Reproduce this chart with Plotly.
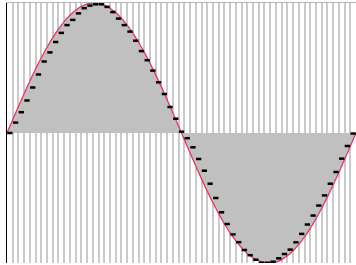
import plotly.graph_objects as go

# Smooth reference curve (one full period across 61 cells)
curve_x = list(range(0, 62))
curve_y = [0.0, 0.1028, 0.2045, 0.3041, 0.4005, 0.4925, 0.5794, 0.6600, 0.7338, 0.7998,
           0.8573, 0.9058, 0.9446, 0.9735, 0.9917, 0.9997, 0.9970, 0.9837, 0.9601, 0.9262,
           0.8826, 0.8297, 0.7679, 0.6980, 0.6205, 0.5367, 0.4471, 0.3528, 0.2547, 0.1539,
           0.0515, -0.0515, -0.1539, -0.2547, -0.3528, -0.4471, -0.5367, -0.6205, -0.6980, -0.7679,
           -0.8297, -0.8826, -0.9262, -0.9601, -0.9837, -0.9970, -0.9997, -0.9917, -0.9735, -0.9446,
           -0.9058, -0.8573, -0.7998, -0.7338, -0.6600, -0.5794, -0.4925, -0.4005, -0.3041, -0.2045,
           -0.1028, 0.0]

# Sampled values (black dashes), one per cell
sample_x = [k + 0.5 for k in range(61)]
sample_y = [0.00, 0.08, 0.16, 0.25, 0.35, 0.45, 0.55, 0.62, 0.70, 0.77,
            0.83, 0.87, 0.92, 0.96, 0.98, 0.99, 0.99, 0.97, 0.93, 0.88,
            0.83, 0.78, 0.71, 0.63, 0.56, 0.48, 0.39, 0.30, 0.20, 0.11,
            0.01, -0.04, -0.11, -0.20, -0.29, -0.39, -0.50, -0.61, -0.70, -0.78,
            -0.84, -0.90, -0.94, -0.975, -0.998, -0.998, -0.99, -0.964, -0.931, -0.897,
            -0.841, -0.776, -0.704, -0.635, -0.558, -0.480, -0.390, -0.300, -0.197, -0.100,
            -0.004]

grid_positions = list(range(1, 61))

fig = go.Figure()
fig.add_trace(go.Scatter(x=curve_x, y=curve_y, mode="lines", fill="tozeroy",
                         fillcolor="#c0c0c0", line=dict(color="#e8365d", width=1.3, shape="spline"),
                         hoverinfo="skip"))
fig.add_trace(go.Scatter(x=sample_x, y=sample_y, mode="markers",
                         marker=dict(symbol="line-ew", size=3.8, line=dict(color="black", width=2.5)),
                         hoverinfo="skip"))

fig.update_layout(
    width=356, height=265,
    margin=dict(l=7, r=0, t=3, b=2),
    paper_bgcolor="white", plot_bgcolor="white",
    showlegend=False,
    xaxis=dict(range=[0, 61], tickvals=grid_positions, showticklabels=False, ticks="",
               showgrid=True, gridcolor="#cacaca", gridwidth=2, zeroline=False,
               side="top", showline=True, linecolor="#b4b4b4", linewidth=1),
    yaxis=dict(range=[-1, 1], showgrid=False, showticklabels=False, ticks="", zeroline=False,
               showline=True, linecolor="black", linewidth=1),
)

fig.write_html("out.html", config={"displayModeBar": False},
               post_script="document.body.style.margin='0';document.body.style.overflow='hidden';")
